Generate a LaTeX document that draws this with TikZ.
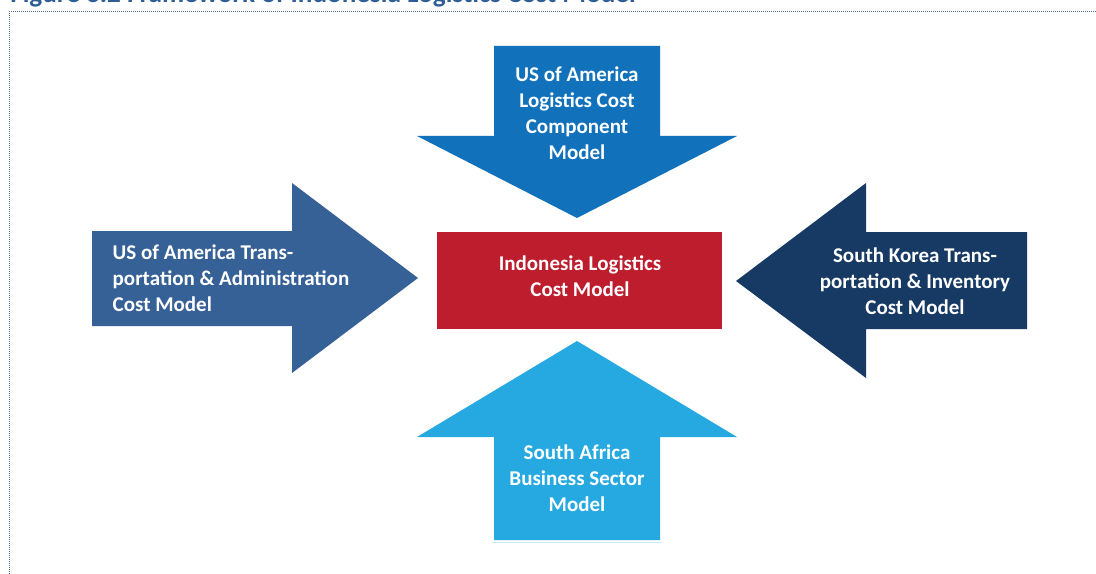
\documentclass[tikz,border=0pt]{standalone}
\usepackage{fontspec}
\setmainfont{Carlito}
\usepackage{xcolor}
\usepackage{tikz}

\definecolor{topblue}{HTML}{1172BB}
\definecolor{leftblue}{HTML}{356197}
\definecolor{rightblue}{HTML}{173A65}
\definecolor{bottomblue}{HTML}{26A9E0}
\definecolor{centrered}{HTML}{BD1D2D}
\definecolor{titleblue}{HTML}{2F5D95}
\definecolor{framegray}{HTML}{4F74A3}

\begin{document}
\begin{tikzpicture}[x=0.75pt,y=-0.75pt,
  boxtext/.style={text=white,font=\bfseries\fontsize{15.75}{19.5}\selectfont,align=center}]

\useasboundingbox (0,0) rectangle (1096,574);
\clip (0,0) rectangle (1096,574);

% Title, cut off at the top
\node[anchor=base west,inner sep=0pt,text=titleblue,font=\bfseries\fontsize{20.4}{24}\selectfont] (title) at (10,3) {Figure 3.2 Framework of Indonesia Logistics Cost Model};

% Dotted frame
\draw[framegray,line width=0.75pt,dash pattern=on 0.75pt off 0.75pt] (9,574) -- (9,12) -- (1096,12);

% Draw arrows
\fill[topblue] (494,46) -- (660,46) -- (660,136) -- (737,136) -- (577,218) -- (417,136) -- (494,136) -- cycle;
\fill[leftblue] (92,231) -- (292,231) -- (292,183) -- (418,278) -- (292,373) -- (292,326) -- (92,326) -- cycle;
\fill[rightblue] (1027,232) -- (866,232) -- (866,183) -- (736,281) -- (866,378) -- (866,329) -- (1027,329) -- cycle;
\fill[bottomblue] (494,540) -- (660,540) -- (660,437) -- (737,437) -- (577,341) -- (417,437) -- (494,437) -- cycle;
\draw[bottomblue!25,line width=0.75pt] (492,542) -- (662,542);

% Centre box
\fill[centrered] (437,232) rectangle (722,329);

% Labels
\node[boxtext] (usacomp) at (577,113) {US of America\\Logistics Cost\\Component\\Model};
\node[boxtext,anchor=west,align=left] (usatrans) at (108,278) {US of America Trans-\\portation \& Administration\\Cost Model};
\node[boxtext] (korea) at (915,281) {South Korea Trans-\\portation \& Inventory\\Cost Model};
\node[boxtext] (africa) at (577,478) {South Africa\\Business Sector\\Model};
\node[boxtext] (indonesia) at (580,276) {Indonesia Logistics\\Cost Model};

\end{tikzpicture}
\end{document}
